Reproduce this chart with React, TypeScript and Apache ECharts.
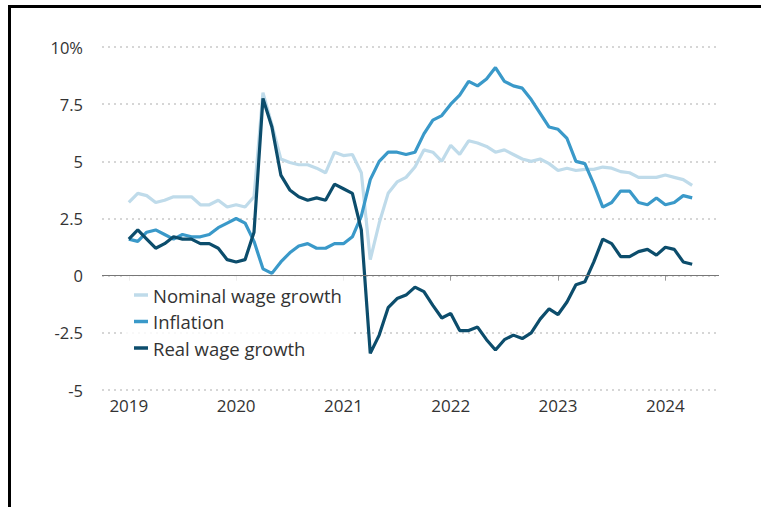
import React, { useEffect, useRef } from "react";
import * as echarts from "echarts";

// Monthly, Jan 2019 – Apr 2024 (year-over-year %)
const nominalWageGrowth = [
  3.2, 3.6, 3.5, 3.2, 3.3, 3.45, 3.45, 3.45, 3.1, 3.1, 3.3, 3.0,
  3.1, 3.0, 3.45, 8.0, 6.6, 5.1, 4.95, 4.85, 4.85, 4.7, 4.5, 5.4,
  5.25, 5.3, 4.5, 0.7, 2.3, 3.6, 4.1, 4.3, 4.75, 5.5, 5.4, 5.0,
  5.7, 5.3, 5.9, 5.8, 5.65, 5.4, 5.5, 5.3, 5.1, 5.0, 5.1, 4.9,
  4.6, 4.7, 4.6, 4.65, 4.65, 4.75, 4.7, 4.55, 4.5, 4.3, 4.3, 4.3,
  4.4, 4.3, 4.2, 3.95,
];
const inflation = [
  1.6, 1.5, 1.9, 2.0, 1.8, 1.6, 1.8, 1.7, 1.7, 1.8, 2.1, 2.3,
  2.5, 2.3, 1.5, 0.3, 0.1, 0.6, 1.0, 1.3, 1.4, 1.2, 1.2, 1.4,
  1.4, 1.7, 2.6, 4.2, 5.0, 5.4, 5.4, 5.3, 5.4, 6.2, 6.8, 7.0,
  7.5, 7.9, 8.5, 8.3, 8.6, 9.1, 8.5, 8.3, 8.2, 7.7, 7.1, 6.5,
  6.4, 6.0, 5.0, 4.9, 4.0, 3.0, 3.2, 3.7, 3.7, 3.2, 3.1, 3.4,
  3.1, 3.2, 3.5, 3.4,
];
const realWageGrowth = [
  1.6, 2.0, 1.6, 1.2, 1.4, 1.7, 1.6, 1.6, 1.4, 1.4, 1.2, 0.7,
  0.6, 0.7, 1.9, 7.75, 6.5, 4.4, 3.75, 3.45, 3.3, 3.4, 3.3, 4.0,
  3.8, 3.6, 2.0, -3.4, -2.6, -1.4, -1.0, -0.85, -0.5, -0.7, -1.3, -1.85,
  -1.65, -2.4, -2.4, -2.25, -2.8, -3.25, -2.8, -2.6, -2.75, -2.5, -1.9, -1.45,
  -1.7, -1.15, -0.4, -0.27, 0.6, 1.6, 1.4, 0.83, 0.83, 1.05, 1.15, 0.9,
  1.24, 1.15, 0.6, 0.5,
];

const seriesNames = ["Nominal wage growth", "Inflation", "Real wage growth"];
const seriesColors = ["#bfdbea", "#3a99c9", "#0c4d6c"];
const yTickLabels: Record<string, string> = {
  "10": "10%", "7.5": "7.5", "5": "5", "2.5": "2.5", "0": "0", "-2.5": "-2.5", "-5": "-5",
};

// axis spans Oct 2018 – Jul 2024; data starts Jan 2019
const axisStart = { year: 2018, month: 10 };
const axisMonthCount = 70;
const dataStart = { year: 2019, month: 1 };

function monthKey(year: number, month: number, offset: number) {
  const t = year * 12 + (month - 1) + offset;
  const y = Math.floor(t / 12);
  const m = (t % 12) + 1;
  return `${y}-${m < 10 ? "0" + m : m}`;
}

const axisMonths = Array.from({ length: axisMonthCount }, (_, i) =>
  monthKey(axisStart.year, axisStart.month, i)
);

const FONT = "'Open Sans', 'Noto Sans', sans-serif";

export default function App() {
  const ref = useRef<HTMLDivElement>(null);

  useEffect(() => {
    document.body.style.margin = "0";
    if (!ref.current) return;
    const chart = echarts.init(ref.current, undefined, { renderer: "svg" });
    const all = [nominalWageGrowth, inflation, realWageGrowth];
    const isJan = (_i: number, v: string) => v.endsWith("-01");

    chart.setOption({
      animation: false,
      grid: { left: 102, right: 42, top: 47, bottom: 117 },
      textStyle: { fontFamily: FONT },
      legend: {
        orient: "vertical",
        left: 126,
        top: 275,
        padding: [10, 10, 8, 8],
        backgroundColor: "rgba(255,255,255,0.82)",
        itemGap: 6.5,
        itemWidth: 14,
        itemHeight: 3.5,
        icon: "rect",
        textStyle: { fontFamily: FONT, fontSize: 18.5, color: "#333", lineHeight: 20 },
        data: seriesNames,
      },
      xAxis: {
        type: "category",
        data: axisMonths,
        boundaryGap: false,
        axisLine: { show: false },
        axisTick: { show: true, interval: isJan, length: 5, lineStyle: { color: "#999" } },
        axisLabel: {
          interval: isJan,
          formatter: (v: string) => v.slice(0, 4),
          fontFamily: FONT,
          fontSize: 17,
          color: "#333",
          margin: 7,
        },
        splitLine: { show: false },
      },
      yAxis: {
        type: "value",
        min: -5,
        max: 10,
        interval: 2.5,
        axisLine: { show: false },
        axisTick: { show: false },
        axisLabel: {
          formatter: (v: number) => yTickLabels[String(v)] ?? String(v),
          fontFamily: FONT,
          fontSize: 16.5,
          color: "#333",
          margin: 19,
        },
        splitLine: { lineStyle: { color: "#d6d6d6", width: 2, type: [2, 4] } },
      },
      series: seriesNames.map((name, si) => ({
        name,
        type: "line",
        symbol: "none",
        z: 2 + si,
        color: seriesColors[si],
        lineStyle: { width: 3.2, color: seriesColors[si] },
        data: all[si].map((v, i) => [monthKey(dataStart.year, dataStart.month, i), v]),
        markLine:
          si === 0
            ? {
                silent: true,
                symbol: "none",
                label: { show: false },
                lineStyle: { color: "#777", width: 1, type: "solid" },
                data: [{ yAxis: 0 }],
              }
            : undefined,
      })),
    });
    return () => chart.dispose();
  }, []);

  return (
    <div style={{ position: "relative", width: 761, height: 507, background: "#fff", overflow: "hidden" }}>
      <div ref={ref} style={{ position: "absolute", left: 0, top: 0, width: 761, height: 507 }} />
      <div
        style={{
          position: "absolute",
          left: 8,
          top: 5,
          width: 800,
          height: 600,
          borderLeft: "3px solid #000",
          borderTop: "3px solid #000",
          pointerEvents: "none",
        }}
      />
    </div>
  );
}
